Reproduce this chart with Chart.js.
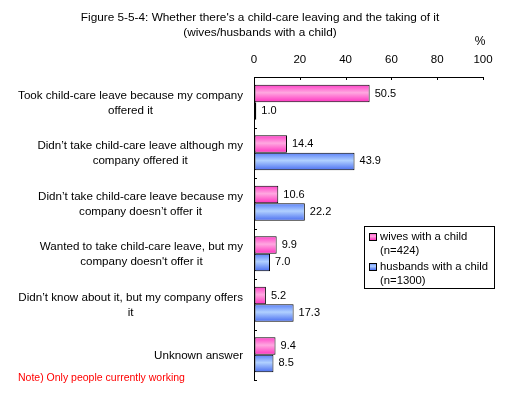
<!DOCTYPE html>
<html><head><meta charset="utf-8">
<script src="https://cdn.jsdelivr.net/npm/chart.js@4/dist/chart.umd.min.js"></script>
<style>html,body{margin:0;padding:0;background:#fff;}#wrap{width:513px;height:393px;position:relative;}</style>
</head><body><div id="wrap"><canvas id="c" width="513" height="393"></canvas></div>
<script>
const categories = [
  ["Took child-care leave because my company", "offered it"],
  ["Didn\u2019t take child-care leave although my", "company offered it"],
  ["Didn\u2019t take child-care leave because my", "company doesn\u2019t offer it"],
  ["Wanted to take child-care leave, but my", "company doesn't offer it"],
  ["Didn\u2019t know about it, but my company offers", "it"],
  ["Unknown answer"]
];
const wivesValues = [50.5, 14.4, 10.6, 9.9, 5.2, 9.4];
const husbandsValues = [1.0, 43.9, 22.2, 7.0, 17.3, 8.5];
const seriesLabels = [["wives with a child", "(n=424)"], ["husbands with a child", "(n=1300)"]];
const xTicks = [0, 20, 40, 60, 80, 100];
const titleLines = ["Figure 5-5-4: Whether there's a child-care leaving and the taking of it", "(wives/husbands with a child)"];
const unitLabel = "%";
const noteText = "Note) Only people currently working";

const FONT = "'Liberation Sans', Arial, sans-serif";
const CAT_PCT = 0.69;
const gradStops = [
  ["#ff40c8", "#ffa8e0", "#ff30c0"],
  ["#5a80f8", "#b0d0ff", "#4a6ef0"]
];
function barGradient(ctx) {
  const chart = ctx.chart;
  const y = chart.scales.y;
  const ds = ctx.datasetIndex;
  const solid = gradStops[ds][0];
  if (!y || y.height == null || ctx.dataIndex == null) return solid;
  const center = y.getPixelForValue(ctx.dataIndex);
  const cat = y.height / categories.length * CAT_PCT;
  const h = cat / 2;
  const top = center - cat / 2 + ds * h;
  const g = chart.ctx.createLinearGradient(0, top, 0, top + h);
  g.addColorStop(0, gradStops[ds][0]);
  g.addColorStop(0.45, gradStops[ds][1]);
  g.addColorStop(1, gradStops[ds][2]);
  return g;
}

const decor = {
  id: 'decor',
  afterDraw(chart) {
    const c = chart.ctx, xs = chart.scales.x, ys = chart.scales.y, area = chart.chartArea;
    c.save();
    // title
    c.fillStyle = '#000';
    c.font = "11.8px " + FONT;
    c.textAlign = 'center'; c.textBaseline = 'middle';
    c.fillText(titleLines[0], 260, 18);
    c.fillText(titleLines[1], 260, 33);
    c.font = "12px " + FONT;
    c.fillText(unitLabel, 480, 42);
    // axis tick marks (inside)
    c.strokeStyle = '#000'; c.lineWidth = 1;
    c.beginPath();
    xTicks.forEach(v => { const px = Math.round(xs.getPixelForValue(v)) + 0.5; c.moveTo(px, area.top); c.lineTo(px, area.top + 3); });
    for (let i = 0; i <= categories.length; i++) {
      const py = Math.round(ys.getPixelForValue(i - 0.5)) + 0.5;
      c.moveTo(area.left, py); c.lineTo(area.left + 3, py);
    }
    c.stroke();
    // category labels
    c.font = "11.6px " + FONT;
    c.fillStyle = '#000';
    categories.forEach((lines, i) => {
      const maxW = Math.max(...lines.map(l => c.measureText(l).width));
      const cx = area.left - 11 - maxW / 2;
      const cy = ys.getPixelForValue(i) + 1;
      const lh = 15;
      lines.forEach((l, j) => c.fillText(l, cx, cy + (j - (lines.length - 1) / 2) * lh));
    });
    // value labels
    c.font = "11px " + FONT;
    c.textAlign = 'left';
    chart.data.datasets.forEach((ds, di) => {
      const meta = chart.getDatasetMeta(di);
      meta.data.forEach((el, i) => {
        c.fillText(ds.data[i].toFixed(1), el.x + 5, el.y);
      });
    });
    // legend
    const lx = 364, ly = 226, lw = 130, lh2 = 62;
    c.fillStyle = '#fff'; c.fillRect(lx, ly, lw, lh2);
    c.strokeStyle = '#000'; c.strokeRect(lx + 0.5, ly + 0.5, lw, lh2);
    c.font = "11.3px " + FONT;
    chart.data.datasets.forEach((ds, di) => {
      const sy = ly + 7 + di * 30;
      const g = c.createLinearGradient(0, sy, 0, sy + 7);
      g.addColorStop(0, gradStops[di][0]); g.addColorStop(0.45, gradStops[di][1]); g.addColorStop(1, gradStops[di][2]);
      c.fillStyle = g; c.fillRect(lx + 5, sy, 8, 8);
      c.strokeStyle = '#000'; c.strokeRect(lx + 5.5, sy + 0.5, 7, 7);
      c.fillStyle = '#000'; c.textAlign = 'left';
      seriesLabels[di].forEach((t, j) => c.fillText(t, lx + 16, sy + 4 + j * 14));
    });
    // note
    c.fillStyle = '#ff0000';
    c.font = "10.5px " + FONT;
    c.fillText(noteText, 18, 378);
    c.restore();
  }
};

new Chart(document.getElementById('c'), {
  type: 'bar',
  data: {
    labels: categories.map(l => l.join(' ')),
    datasets: [
      { label: seriesLabels[0].join(' '), data: wivesValues, backgroundColor: barGradient, borderColor: '#000', borderWidth: 1, borderSkipped: false, categoryPercentage: CAT_PCT, barPercentage: 1 },
      { label: seriesLabels[1].join(' '), data: husbandsValues, backgroundColor: barGradient, borderColor: '#000', borderWidth: 1, borderSkipped: false, categoryPercentage: CAT_PCT, barPercentage: 1 }
    ]
  },
  options: {
    indexAxis: 'y',
    responsive: false,
    animation: false,
    layout: { padding: { left: 0, right: 30, top: 0, bottom: 13 } },
    plugins: { legend: { display: false }, tooltip: { enabled: false }, title: { display: false } },
    scales: {
      x: {
        position: 'top', min: 0, max: 100,
        afterFit(s) { s.height = 77; },
        afterBuildTicks(s) { s.ticks = xTicks.map(v => ({ value: v })); },
        grid: { display: true, drawOnChartArea: false, drawTicks: false },
        border: { display: true, color: '#000', width: 1 },
        ticks: { color: '#000', font: { family: FONT, size: 11.5 }, padding: 10, maxRotation: 0 }
      },
      y: {
        afterFit(s) { s.width = 254; },
        grid: { display: true, drawOnChartArea: false, drawTicks: false },
        border: { display: true, color: '#000', width: 1 },
        ticks: { display: false }
      }
    }
  },
  plugins: [decor]
});
</script></body></html>
